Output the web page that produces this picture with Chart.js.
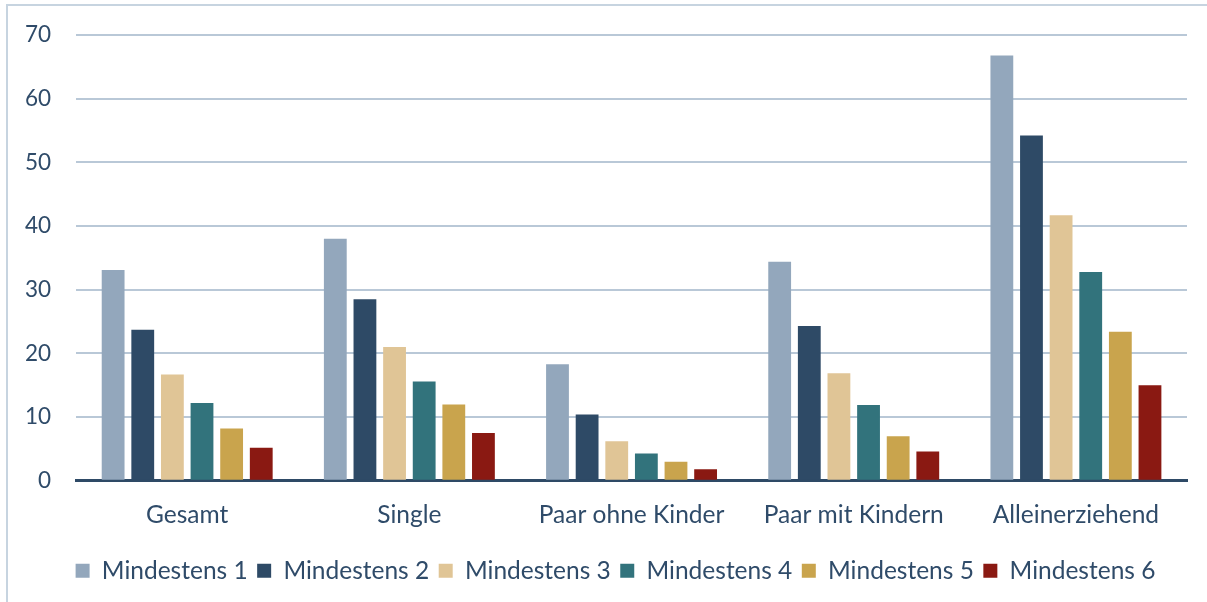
<!DOCTYPE html>
<html>
<head>
<meta charset="utf-8">
<script src="https://cdn.jsdelivr.net/npm/chart.js@4.4.1/dist/chart.umd.min.js"></script>
<style>
    html, body { margin: 0; padding: 0; background: #fff; }
    #frame {
        position: absolute; left: 6px; top: 4px; right: 0; bottom: 0;
        border-top: 2px solid #c7d4e0; border-left: 2px solid #c7d4e0;
    }
    #wrap { position: absolute; left: 0; top: 0; width: 1207px; height: 602px; }
</style>
</head>
<body>
<div id="frame"></div>
<div id="wrap"><canvas id="chart"></canvas></div>
<script>
    // ── 資料 ─────────────────────────────────────────────
    var categories = ['Gesamt', 'Single', 'Paar ohne Kinder', 'Paar mit Kindern', 'Alleinerziehend'];
    var seriesNames = ['Mindestens 1', 'Mindestens 2', 'Mindestens 3', 'Mindestens 4', 'Mindestens 5', 'Mindestens 6'];
    var mind1 = [33.1, 38.0, 18.3, 34.4, 66.8];
    var mind2 = [23.7, 28.5, 10.4, 24.3, 54.2];
    var mind3 = [16.7, 21.0, 6.2, 16.9, 41.7];
    var mind4 = [12.2, 15.6, 4.3, 11.9, 32.8];
    var mind5 = [8.2, 12.0, 3.0, 7.0, 23.4];
    var mind6 = [5.2, 7.5, 1.8, 4.6, 15.0];
    var yTicks = [0, 10, 20, 30, 40, 50, 60, 70];

    var colors = ['#93a7bc', '#2e4a66', '#e0c596', '#32737c', '#c9a44d', '#8a1912'];
    var TEXT = '#2f4b69';
    var FONT = 'Lato, "Open Sans", sans-serif';
    var LEGEND_SHIFT = 22; // 圖例整體向右偏移
    var PLOT_TOP = 35;     // 繪圖區上緣

    var values = [mind1, mind2, mind3, mind4, mind5, mind6];
    var datasets = values.map(function (v, i) {
        return {
            label: seriesNames[i],
            data: v,
            backgroundColor: colors[i],
            borderWidth: 0,
            categoryPercentage: 0.8,
            barPercentage: 0.77
        };
    });

    Chart.defaults.font.family = FONT;
    Chart.defaults.color = TEXT;

    // 圖例位置微調
    var legendShift = {
        id: 'legendShift',
        afterLayout: function (chart) {
            if (!chart.legend) return;
            chart.legend.left += LEGEND_SHIFT;
            chart.legend.right += LEGEND_SHIFT;
        }
    };

    new Chart(document.getElementById('chart'), {
        type: 'bar',
        data: { labels: categories, datasets: datasets },
        plugins: [legendShift],
        options: {
            responsive: true,
            maintainAspectRatio: false,
            animation: false,
            layout: { padding: { left: 0, right: 20, top: 0, bottom: 9 } },
            plugins: {
                tooltip: { enabled: false },
                legend: {
                    position: 'bottom',
                    labels: {
                        boxWidth: 14,
                        boxHeight: 14,
                        padding: 9.5,
                        color: TEXT,
                        font: { size: 24.5 }
                    }
                }
            },
            scales: {
                x: {
                    grid: { display: false, drawTicks: false },
                    border: { display: true, color: '#2e4a66', width: 3 },
                    ticks: { padding: 19.4, color: TEXT, font: { size: 24.5 } }
                },
                y: {
                    min: 0,
                    max: 70,
                    afterBuildTicks: function (axis) {
                        axis.ticks = yTicks.map(function (t) { return { value: t }; });
                    },
                    afterFit: function (axis) {
                        axis.paddingTop = PLOT_TOP;
                    },
                    grid: {
                        drawTicks: false,
                        lineWidth: 2,
                        color: function (ctx) {
                            return ctx.tick && ctx.tick.value === 0 ? 'rgba(0,0,0,0)' : '#b9c8d7';
                        }
                    },
                    border: { display: false },
                    ticks: { padding: 25, color: TEXT, font: { size: 22.5 } }
                }
            }
        }
    });
</script>
</body>
</html>
